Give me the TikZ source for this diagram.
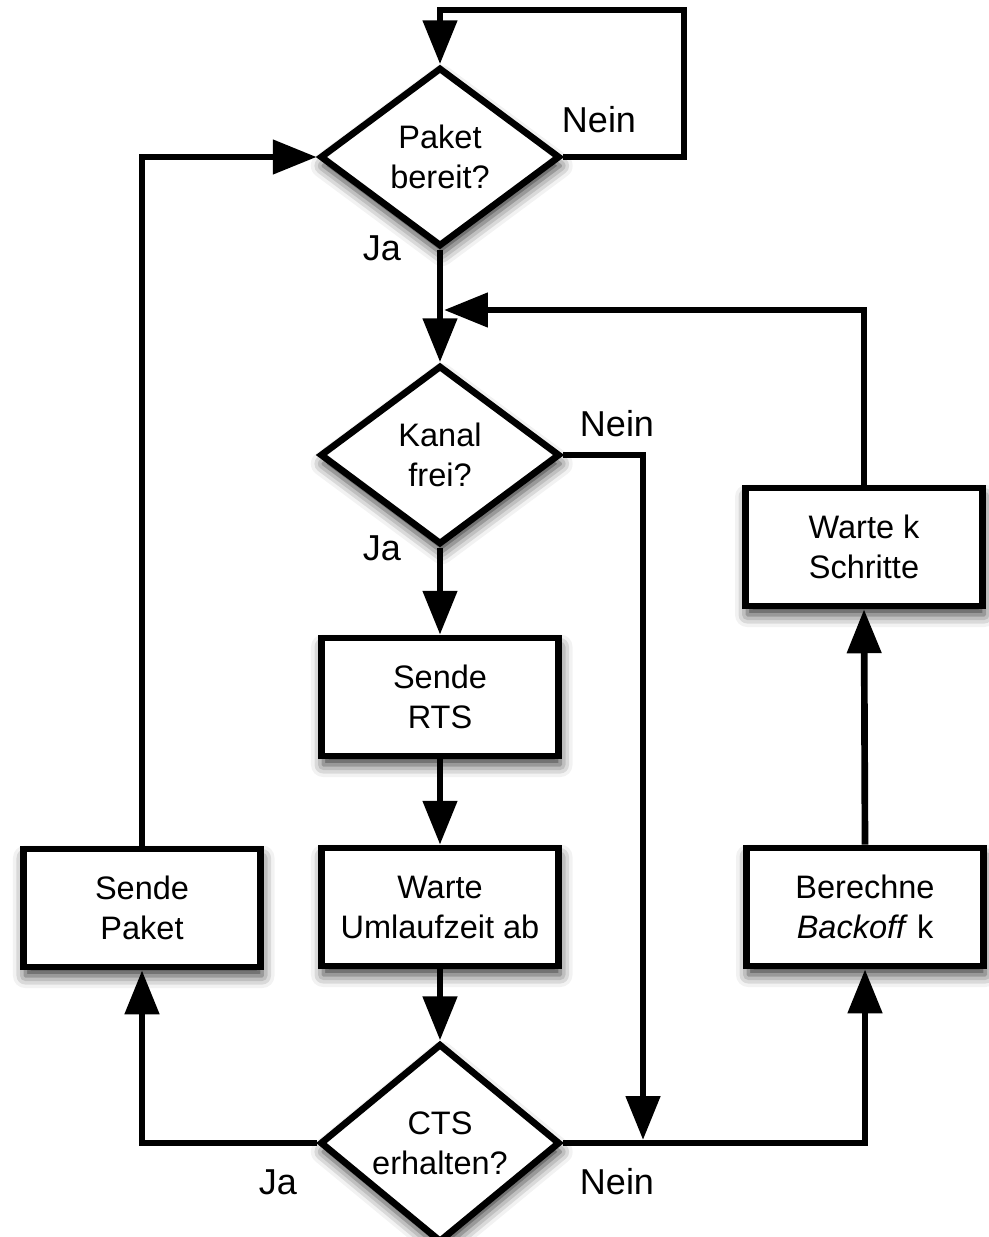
\documentclass[tikz,border=0pt]{standalone}
\usepackage{fontspec}
\setmainfont{Liberation Sans}
\usetikzlibrary{shapes.geometric}
\usetikzlibrary{arrows.meta}
\usetikzlibrary{shadows.blur}
\tikzset{
    boxshadow/.style={
        blur shadow={shadow xshift=1pt, shadow yshift=-5pt,
            shadow blur radius=7pt, shadow opacity=80}
    },
    process/.style={
        rectangle, draw, fill=white, line width=3.8pt,
        minimum width=4.74cm, minimum height=2.36cm,
        align=center, font=\fontsize{18.5}{22.8}\selectfont,
        boxshadow
    },
    decision/.style={
        diamond, draw, fill=white, line width=3.8pt, inner sep=0pt,
        minimum width=4.8cm, minimum height=3.58cm,
        align=center, font=\fontsize{18.5}{22.8}\selectfont,
        boxshadow
    },
    answer/.style={font=\fontsize{20.5}{24}\selectfont},
    flow/.style={
        line width=3.8pt,
        -{Triangle[length=25pt,width=19pt]}
    }
}

\begin{document}
\begin{tikzpicture}[x=0.02cm,y=0.02cm]
		\useasboundingbox (0,0) rectangle (989,-1237);

		% Decisions
		\node[decision] (ready) at (440,-157) {Paket\\bereit?};
		\node[decision] (free) at (440,-455) {Kanal\\frei?};
		\node[decision] (cts) at (440,-1143) {CTS\\erhalten?};

		% Actions
		\node[process] (rts) at (440,-697) {Sende\\RTS};
		\node[process] (rtt) at (440,-907) {Warte\\Umlaufzeit ab};
		\node[process] (packet) at (142,-908) {Sende\\Paket};
		\node[process] (backoff) at (865,-907) {Berechne\\\textit{Backoff} k};
		\node[process] (waitk) at (864,-547) {Warte k\\Schritte};

		% Answers
		\node[answer] (readyno) at (599,-120) {Nein};
		\node[answer] (readyyes) at (382,-248) {Ja};
		\node[answer] (freeno) at (617,-424) {Nein};
		\node[answer] (freeyes) at (382,-548) {Ja};
		\node[answer] (ctsyes) at (278,-1182) {Ja};
		\node[answer] (ctsno) at (617,-1182) {Nein};

		% Loop points
		\coordinate (idle) at (684,-10);
		\coordinate (retry) at (444,-310);
		\coordinate (busy) at (643,-1140);

		% Main line
		\draw[flow] (ready.south) -- (free.north);
		\draw[flow] (free.south) -- (rts.north);
		\draw[flow] (rts.south) -- (rtt.north);
		\draw[flow] (rtt.south) -- (cts.north);

		% Loops
		\draw[flow] (ready.east) -| (idle) -| (ready.north);
		\draw[flow] (free.east) -| (busy);
		\draw[flow] (cts.west) -| (packet.south);
		\draw[flow] (packet.north) |- (ready.west);
		\draw[flow] (cts.east) -| (backoff.south);
		\draw[flow] (backoff.north) -- (waitk.south);
		\draw[flow] (waitk.north) |- (retry);

	\end{tikzpicture}
\end{document}
